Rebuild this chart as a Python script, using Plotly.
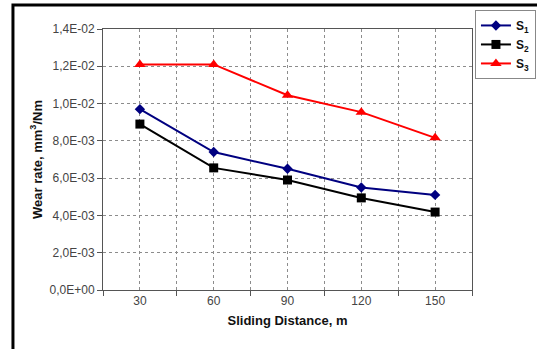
import plotly.graph_objects as go

distance = [30, 60, 90, 120, 150]
s1 = [0.0097, 0.0074, 0.0065, 0.0055, 0.0051]
s2 = [0.0089, 0.00655, 0.0059, 0.00494, 0.00418]
s3 = [0.0121, 0.0121, 0.01045, 0.00954, 0.00816]
y_ticks = [0, 0.002, 0.004, 0.006, 0.008, 0.010, 0.012, 0.014]
y_labels = ["0,0E+00", "2,0E-03", "4,0E-03", "6,0E-03", "8,0E-03", "1,0E-02", "1,2E-02", "1,4E-02"]

FONT = "Liberation Sans, Arial, sans-serif"

fig = go.Figure()
fig.add_trace(go.Scatter(x=distance, y=s1, name="<b>S<sub>1</sub></b>", mode="lines+markers",
                         line=dict(color="#000080", width=2),
                         marker=dict(symbol="diamond", size=8, color="#000080")))
fig.add_trace(go.Scatter(x=distance, y=s2, name="<b>S<sub>2</sub></b>", mode="lines+markers",
                         line=dict(color="#000000", width=2),
                         marker=dict(symbol="square", size=9, color="#000000")))
fig.add_trace(go.Scatter(x=distance, y=s3, name="<b>S<sub>3</sub></b>", mode="lines+markers",
                         line=dict(color="#ff0000", width=2),
                         marker=dict(symbol="triangle-up", size=10, color="#ff0000")))

grid = dict(gridcolor="#8c8c8c", griddash="dot", gridwidth=1)
fig.update_xaxes(range=[15, 165], tickvals=distance, ticktext=[str(d) for d in distance],
                 ticks="", showline=True, linecolor="#555", linewidth=1, mirror=True,
                 tickfont=dict(family=FONT, size=12, color="#444"),
                 title=dict(text="<b>Sliding Distance, m</b>", standoff=8,
                            font=dict(family=FONT, size=13, color="#111")),
                 showgrid=True, zeroline=False,
                 minor=dict(tick0=15, dtick=30, ticks="outside", ticklen=5, tickcolor="#555",
                            showgrid=True, **grid),
                 **grid)
fig.update_yaxes(range=[0, 0.014], tickvals=y_ticks, ticktext=y_labels,
                 ticks="outside", ticklen=5, tickcolor="#555",
                 showline=True, linecolor="#555", linewidth=1, mirror=True,
                 tickfont=dict(family=FONT, size=12, color="#444"),
                 title=dict(text="<b>Wear rate, mm<sup>3</sup>/Nm</b>", standoff=4,
                            font=dict(family=FONT, size=13, color="#111")),
                 showgrid=True, zeroline=False, **grid)

fig.update_layout(
    width=537, height=349,
    margin=dict(l=103, r=65, t=29, b=59, autoexpand=False),
    paper_bgcolor="white", plot_bgcolor="white",
    showlegend=True,
    legend=dict(x=1.008, y=1.073, xanchor="left", yanchor="top",
                bordercolor="#888", borderwidth=1, bgcolor="white",
                font=dict(family=FONT, size=12, color="#111"),
                itemwidth=30, tracegroupgap=0),
    shapes=[dict(type="rect", xref="paper", yref="paper", x0=-0.244, x1=1.3, y0=-0.4, y1=1.092,
                 line=dict(color="black", width=3), fillcolor="rgba(0,0,0,0)", layer="above")],
)
fig.write_html("out.html")
